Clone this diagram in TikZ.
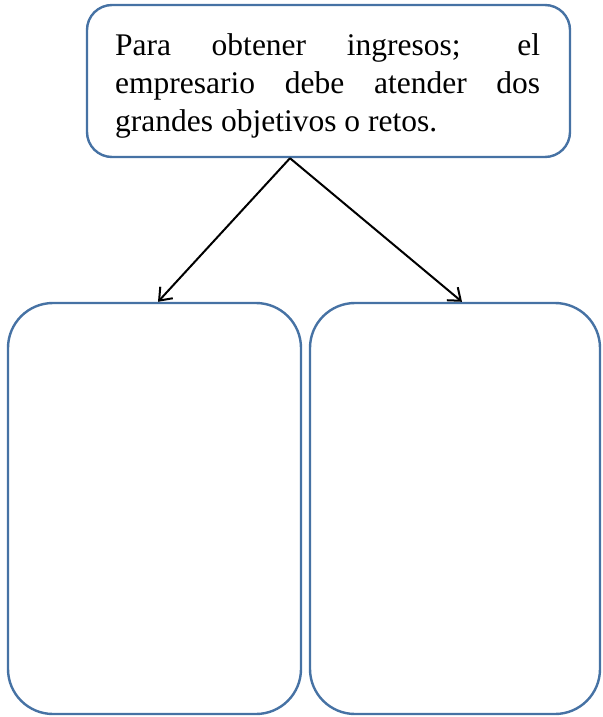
\documentclass[tikz,border=0pt]{standalone}
\usepackage{fontspec}
\setmainfont{Liberation Serif}
\usetikzlibrary{arrows.meta}
\definecolor{boxblue}{RGB}{70,114,164}
\begin{document}
\begin{tikzpicture}[x=1pt,y=-1pt,
  roundbox/.style={draw=boxblue, line width=2.4pt, fill=white, inner sep=0pt},
  conn/.style={draw=black, line width=2pt, -{Straight Barb[length=11pt,width=17pt,line width=2pt]}}]
\useasboundingbox (0,0) rectangle (602,717);
\node[roundbox, rounded corners=25pt, minimum width=483pt, minimum height=152pt] (top) at (328.5,81) {};
\node[anchor=base west, text width=425pt, align=justify, inner sep=0pt,
  font=\fontsize{31.5}{37.8}\selectfont] (txt) at (115,56)
  {\hyphenpenalty=10000 Para obtener ingresos; el\linebreak empresario debe atender dos\linebreak grandes objetivos o retos.};
\node[roundbox, rounded corners=45pt, minimum width=293pt, minimum height=411pt] (left) at (154.5,508.5) {};
\node[roundbox, rounded corners=45pt, minimum width=290pt, minimum height=411pt] (right) at (455,508.5) {};
\coordinate (src) at ([xshift=-38.5pt]top.south);
\draw[conn] (src) -- ([xshift=3.5pt]left.north);
\draw[conn] (src) -- ([xshift=7pt]right.north);
\end{tikzpicture}
\end{document}
